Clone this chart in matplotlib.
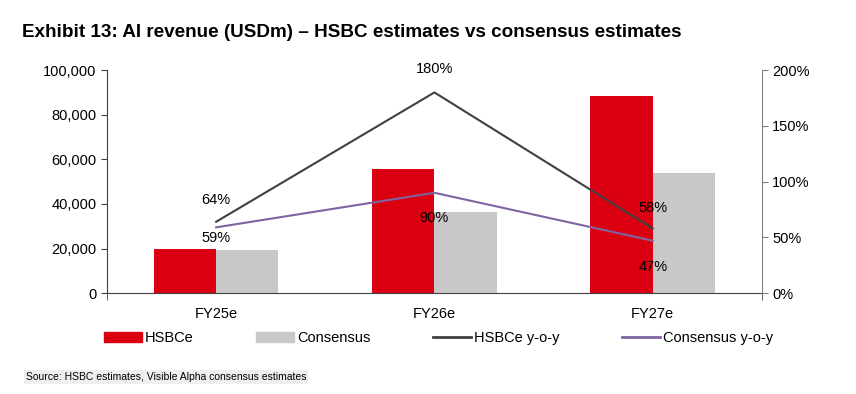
import numpy as np
import matplotlib.pyplot as plt
from matplotlib.patches import Patch
from matplotlib.lines import Line2D

plt.rcParams['font.family'] = ['Liberation Sans', 'DejaVu Sans']

years = ['FY25e', 'FY26e', 'FY27e']
hsbc_rev = [19700, 55600, 88200]
cons_rev = [19300, 36300, 53800]
hsbc_yoy = [64, 180, 58]
cons_yoy = [59, 90, 47]

red = '#DB0011'
grey = '#C8C8C8'
dark = '#404040'
purple = '#8064A2'

# label offsets in points (style only)
hsbc_off = [16, 17, 15]
cons_off = [-8, -18, -19]

fig = plt.figure(figsize=(8.56, 3.94), dpi=100)
ax = fig.add_axes([0.125, 0.256, 0.765, 0.566])
x = np.arange(len(years))
w = 0.285
ax.bar(x - w / 2, hsbc_rev, w, color=red)
ax.bar(x + w / 2, cons_rev, w, color=grey)
ax.set_xlim(-0.5, 2.5)
ax.set_ylim(0, 100000)
ax.set_yticks(np.arange(0, 100001, 20000))
ax.set_yticklabels([f'{v:,}' for v in range(0, 100001, 20000)], fontsize=10.5)
ax.set_xticks(x)
ax.set_xticklabels(years, fontsize=10.5)
ax.set_xticks([-0.5, 2.5], minor=True)
ax.tick_params(axis='x', which='major', length=0, pad=10)
ax.tick_params(axis='x', which='minor', direction='out', length=5, color='#404040')
ax.tick_params(axis='y', direction='out', length=4, color='#404040')
ax.spines['top'].set_visible(False)
ax.spines['right'].set_visible(False)
ax.spines['left'].set_color('#404040')
ax.spines['bottom'].set_color('#404040')

ax2 = ax.twinx()
ax2.plot(x, hsbc_yoy, color=dark, lw=1.5)
ax2.plot(x, cons_yoy, color=purple, lw=1.5)
ax2.set_ylim(0, 200)
ax2.set_yticks(range(0, 201, 50))
ax2.set_yticklabels([f'{v}%' for v in range(0, 201, 50)], fontsize=10.5)
ax2.tick_params(axis='y', direction='out', length=4, color='#808080')
for s in ['top', 'left', 'bottom']:
    ax2.spines[s].set_visible(False)
ax2.spines['right'].set_color('#808080')

for i in range(len(years)):
    ax2.annotate(f'{hsbc_yoy[i]}%', (x[i], hsbc_yoy[i]), xytext=(0, hsbc_off[i]),
                 textcoords='offset points', ha='center', va='center', fontsize=10.5)
    ax2.annotate(f'{cons_yoy[i]}%', (x[i], cons_yoy[i]), xytext=(0, cons_off[i]),
                 textcoords='offset points', ha='center', va='center', fontsize=10.5)

handles = [Patch(color=red), Patch(color=grey),
           Line2D([], [], color=dark, lw=2), Line2D([], [], color=purple, lw=2)]
labels = ['HSBCe', 'Consensus', 'HSBCe y-o-y', 'Consensus y-o-y']
fig.legend(handles, labels, loc='center left', bbox_to_anchor=(0.113, 0.142), ncol=4,
           frameon=False, fontsize=10.5, handlelength=2.6, handletextpad=0.2,
           columnspacing=4.3, borderpad=0)

fig.text(0.026, 0.918, 'Exhibit 13: AI revenue (USDm) \u2013 HSBC estimates vs consensus estimates',
         fontsize=13.6, fontweight='bold', va='center')
fig.text(0.03, 0.043, 'Source: HSBC estimates, Visible Alpha consensus estimates',
         fontsize=7.5, va='center',
         bbox=dict(facecolor='#EFEFEF', edgecolor='none', pad=1.5))

fig.savefig('out.png', dpi=100)
